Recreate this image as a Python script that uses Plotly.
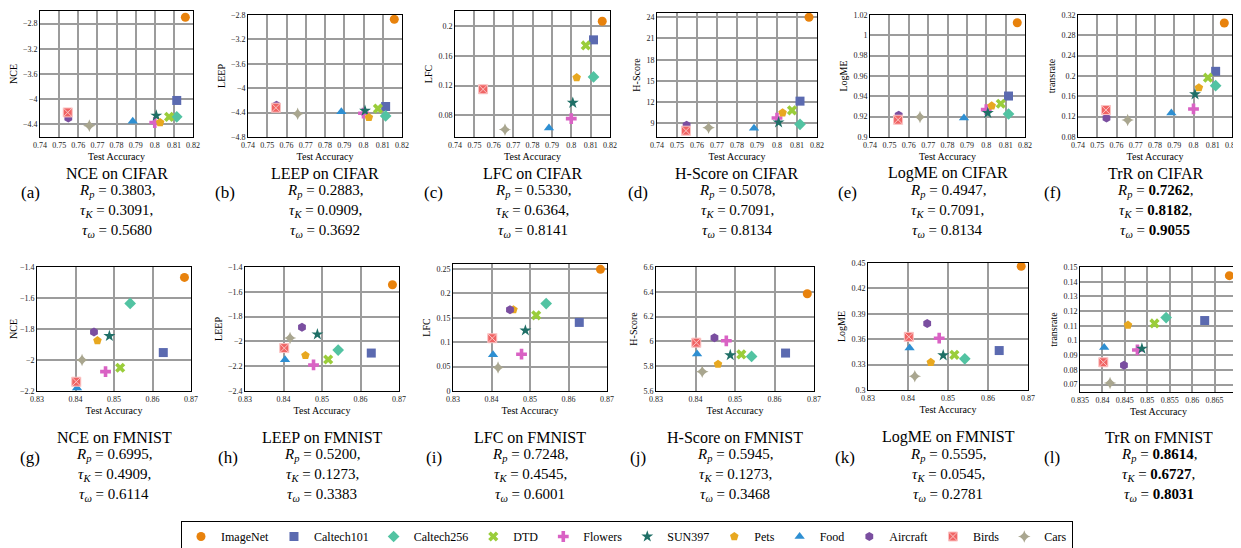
import plotly.graph_objects as go

# ---------------- data ----------------
datasets = ["ImageNet", "Caltech101", "Caltech256", "DTD", "Flowers", "SUN397",
            "Pets", "Food", "Aircraft", "Birds", "Cars"]
colors = ["#E8820C", "#5B6AB0", "#52C3A2", "#9ACD3A", "#D962C4", "#1F6F66",
          "#E8A820", "#2E8FD2", "#7A4EA0", "#F06464", "#A9A68F"]
symbols = ["circle", "square", "diamond", "x", "cross", "star",
           "pentagon", "triangle-up", "hexagon", "square-x", "star-diamond"]

cifar_acc = [0.8160, 0.8115, 0.8115, 0.8075, 0.8000, 0.8008, 0.8028, 0.7885, 0.7548, 0.7545, 0.7658]
fmnist_acc = [0.8683, 0.8628, 0.8542, 0.8516, 0.8478, 0.8488, 0.8457, 0.8404, 0.8448, 0.8402, 0.8417]

nce_cifar = [-2.70, -4.02, -4.28, -4.28, -4.37, -4.26, -4.37, -4.35, -4.30, -4.21, -4.42]
leep_cifar = [-2.87, -4.30, -4.455, -4.335, -4.41, -4.37, -4.48, -4.385, -4.28, -4.32, -4.42]
lfc_cifar = [0.2062, 0.1813, 0.1316, 0.1738, 0.0756, 0.0969, 0.1307, 0.0630, 0.1150, 0.1150, 0.0609]
hscore_cifar = [24.0, 12.14, 8.86, 10.84, 9.75, 9.14, 10.5, 8.3, 8.72, 7.96, 8.39]
logme_cifar = [1.0124, 0.9403, 0.9226, 0.9327, 0.9269, 0.9236, 0.9307, 0.9187, 0.9213, 0.9170, 0.9197]
trr_cifar = [0.3042, 0.2092, 0.1810, 0.1967, 0.1352, 0.1640, 0.1770, 0.1270, 0.1174, 0.1330, 0.1135]

nce_fmnist = [-1.467, -1.952, -1.635, -2.05, -2.075, -1.845, -1.875, -2.18, -1.82, -2.14, -2.0]
leep_fmnist = [-1.543, -2.094, -2.07, -2.146, -2.19, -1.943, -2.113, -2.148, -1.885, -2.054, -1.973]
lfc_fmnist = [0.249, 0.1404, 0.179, 0.155, 0.0753, 0.124, 0.1664, 0.074, 0.1664, 0.108, 0.048]
hscore_fmnist = [6.384, 5.906, 5.879, 5.895, 6.005, 5.889, 5.816, 5.898, 6.03, 5.99, 5.756]
logme_fmnist = [0.4461, 0.3466, 0.3368, 0.3415, 0.3612, 0.341, 0.3327, 0.3496, 0.3784, 0.3628, 0.3163]
trr_fmnist = [0.1441, 0.1136, 0.1156, 0.1116, 0.0936, 0.0945, 0.1105, 0.0952, 0.0832, 0.0852, 0.0711]

metric_names = ["NCE", "LEEP", "LFC", "H-Score", "LogME", "TrR"]
y_titles = ["NCE", "LEEP", "LFC", "H-Score", "LogME", "transrate"]
panel_labels = ["(a)", "(b)", "(c)", "(d)", "(e)", "(f)", "(g)", "(h)", "(i)", "(j)", "(k)", "(l)"]

rp_vals = ["0.3803", "0.2883", "0.5330", "0.5078", "0.4947", "0.7262",
           "0.6995", "0.5200", "0.7248", "0.5945", "0.5595", "0.8614"]
tk_vals = ["0.3091", "0.0909", "0.6364", "0.7091", "0.7091", "0.8182",
           "0.4909", "0.1273", "0.4545", "0.1273", "0.0545", "0.6727"]
tw_vals = ["0.5680", "0.3692", "0.8141", "0.8134", "0.8134", "0.9055",
           "0.6114", "0.3383", "0.6001", "0.3468", "0.2781", "0.8031"]
bold_panels = [5, 11]

# ---------------- layout geometry ----------------
# the page body has an 8px margin, so the figure is drawn 8px in from the window edge
OFF = 8
W, H = 1241 - OFF, 548 - OFF


def px(x):
    return (x - OFF) / W


def py(y):
    return 1 - (y - OFF) / H


# (left, right, top, bottom) in window pixels
boxes = [(40, 193, 11, 137), (248, 402, 15, 137), (455, 610, 11, 137),
         (657, 817, 13, 137), (870, 1025, 15, 137), (1078, 1232, 15, 137),
         (37, 191, 267, 391), (245, 399, 267, 391), (453, 607, 264, 391),
         (656, 814, 267, 391), (868, 1028, 263, 390), (1080, 1237, 267, 392)]
x_ranges = [[0.74, 0.82]] * 6 + [[0.83, 0.87]] * 5 + [[0.835, 0.87]]
x_dticks = [0.01] * 11 + [0.005]
y_ranges = [[-4.6, -2.6], [-4.8, -2.8], [0.051, 0.22], [7.07, 24.6], [0.9, 1.02], [0.08, 0.32],
            [-2.2, -1.4], [-2.4, -1.4], [0, 0.26], [5.6, 6.6], [0.3, 0.45], [0.065, 0.15]]
y_dticks = [0.4, 0.4, 0.04, 3, 0.02, 0.04, 0.2, 0.2, 0.05, 0.2, 0.03, 0.01]
y_tick0 = [-2.8, -2.8, 0, 0, 0.9, 0.08, -1.4, -1.4, 0, 5.6, 0.3, 0.07]
label_x = [30, 225, 433, 638, 847, 1052, 30, 228, 434, 638, 845, 1052]

values = [nce_cifar, leep_cifar, lfc_cifar, hscore_cifar, logme_cifar, trr_cifar,
          nce_fmnist, leep_fmnist, lfc_fmnist, hscore_fmnist, logme_fmnist, trr_fmnist]

SERIF = "Liberation Serif"
fig = go.Figure()
layout = dict(width=W, height=H, margin=dict(l=0, r=0, t=0, b=0, autoexpand=False),
              paper_bgcolor="white", plot_bgcolor="white", showlegend=True,
              font=dict(family=SERIF, color="black"))
annotations = []

for p in range(12):
    ax = "" if p == 0 else str(p + 1)
    m = p % 6
    accs = cifar_acc if p < 6 else fmnist_acc
    vals = values[p]
    for i, name in enumerate(datasets):
        fig.add_trace(go.Scatter(
            x=[accs[i]], y=[vals[i]], mode="markers", name=name,
            legendgroup=name, showlegend=(p == 0),
            marker=dict(symbol=symbols[i], color=colors[i], size=9,
                        line=dict(width=1 if symbols[i] == "square-x" else 0,
                                  color="#FBC4C4")),
            xaxis="x" + ax, yaxis="y" + ax))
    l, r, t, b = boxes[p]
    axcommon = dict(showline=True, mirror=True, linecolor="black", linewidth=1,
                    showgrid=True, gridcolor="#9c9c9c", gridwidth=1.5,
                    zeroline=False, ticks="",
                    tickfont=dict(family=SERIF, size=8, color="#222"))
    layout["xaxis" + ax] = dict(axcommon, domain=[px(l), min(px(r), 1)], anchor="y" + ax,
                                range=x_ranges[p], dtick=x_dticks[p], tick0=0.8,
                                title=dict(text="Test Accuracy", standoff=4,
                                           font=dict(family=SERIF, size=10)))
    layout["yaxis" + ax] = dict(axcommon, domain=[py(b), py(t)], anchor="x" + ax,
                                range=y_ranges[p], dtick=y_dticks[p], tick0=y_tick0[p],
                                title=dict(text=y_titles[m], standoff=3,
                                           font=dict(family=SERIF, size=10)))
    # captions
    cx = px((l + r) / 2)
    row_top = 173 if p < 6 else 437
    ds = "CIFAR" if p < 6 else "FMNIST"
    annotations.append(dict(text=f"{metric_names[m]} on {ds}", x=cx, y=py(row_top),
                            xref="paper", yref="paper", showarrow=False,
                            xanchor="center", yanchor="middle",
                            font=dict(family=SERIF, size=16)))
    bo, bc = ("<b>", "</b>") if p in bold_panels else ("", "")
    lines = [f"<i>R</i><sub><i>p</i></sub> = {bo}{rp_vals[p]}{bc},",
             f"<i>τ</i><sub><i>K</i></sub> = {bo}{tk_vals[p]}{bc},",
             f"<i>τ</i><sub><i>ω</i></sub> = {bo}{tw_vals[p]}{bc}"]
    for k, txt in enumerate(lines):
        annotations.append(dict(text=txt, x=cx, y=py(row_top + 20 * (k + 1) - 2),
                                xref="paper", yref="paper", showarrow=False,
                                xanchor="center", yanchor="middle",
                                font=dict(family=SERIF, size=15)))
    annotations.append(dict(text=panel_labels[p], x=px(label_x[p]),
                            y=py(row_top + 20), xref="paper", yref="paper",
                            showarrow=False, xanchor="center", yanchor="middle",
                            font=dict(family=SERIF, size=17)))

layout["annotations"] = annotations
layout["legend"] = dict(orientation="h", x=px(627), xanchor="center", y=py(521),
                        yanchor="top", bordercolor="black", borderwidth=1,
                        font=dict(family=SERIF, size=12), itemwidth=30,
                        tracegroupgap=0, bgcolor="white")
fig.update_layout(**layout)
fig.write_html("out.html")
